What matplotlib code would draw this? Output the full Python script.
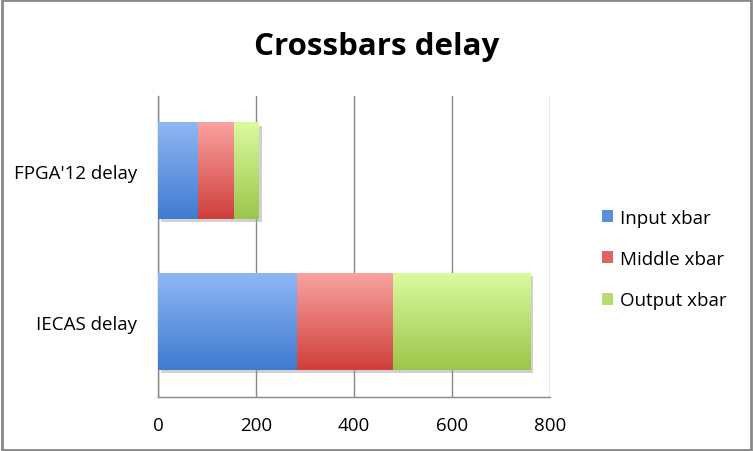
import numpy as np
import matplotlib
matplotlib.use('agg')
import matplotlib.pyplot as plt
from matplotlib.colors import LinearSegmentedColormap
from matplotlib.patches import Rectangle, Patch
import matplotlib.patheffects as pe

# data
categories = ["FPGA'12 delay", "IECAS delay"]
series_names = ["Input xbar", "Middle xbar", "Output xbar"]
input_xbar = [81, 283]
middle_xbar = [75, 196]
output_xbar = [50, 281]
x_ticks = [0, 200, 400, 600, 800]

# gradient top / bottom colours for each series
grad_colors = [
    ("#8fb6f4", "#3f7bd0"),
    ("#f9a2a0", "#cf3f3b"),
    ("#dafa9e", "#9cc64b"),
]
legend_colors = ["#5b8fdc", "#e06461", "#b6dc72"]

plt.rcParams['font.family'] = ['Open Sans', 'DejaVu Sans']

fig = plt.figure(figsize=(7.53, 4.52), dpi=100)
ax = fig.add_axes([158 / 753, 1 - 398 / 452, 392 / 753, 301 / 452])

values = [input_xbar, middle_xbar, output_xbar]
ypos = np.arange(len(categories))
left = np.zeros(len(categories))
bar_h = 0.64
for name, vals, (ctop, cbot) in zip(series_names, values, grad_colors):
    bars = ax.barh(ypos, vals, left=left, height=bar_h, color=cbot,
                   edgecolor='none', zorder=3, label=name)
    cmap = LinearSegmentedColormap.from_list(name, [cbot, ctop])
    grad = np.linspace(0, 1, 100).reshape(-1, 1)
    for b in bars:
        x0, y0 = b.get_x(), b.get_y()
        w, h = b.get_width(), b.get_height()
        # y axis is inverted below, so the top of the bar is y0
        ax.imshow(grad, cmap=cmap, aspect='auto', zorder=4,
                  extent=(x0, x0 + w, y0, y0 + h), origin='upper')
    left = left + np.array(vals)

# shadow under each full stacked bar
for i, total in enumerate(left):
    sh = Rectangle((0, ypos[i] - bar_h / 2), total, bar_h, facecolor='white',
                   edgecolor='none', zorder=2)
    sh.set_path_effects([pe.SimplePatchShadow(offset=(2, -2), shadow_rgbFace='#999999', alpha=0.45)])
    ax.add_patch(sh)

ax.set_xlim(0, 800)
ax.set_ylim(-0.5, 1.5)
ax.invert_yaxis()
ax.set_xticks(x_ticks)
ax.set_xticklabels([str(t) for t in x_ticks], fontsize=13.5)
ax.set_yticks(ypos)
ax.set_yticklabels(categories, fontsize=13.5)
ax.tick_params(axis='both', length=0)
ax.tick_params(axis='x', pad=14)
ax.tick_params(axis='y', pad=15)
ax.grid(axis='x', color='#888888', linewidth=1.0, zorder=1)
ax.set_axisbelow(True)
for s in ['top', 'right']:
    ax.spines[s].set_visible(False)
for s in ['left', 'bottom']:
    ax.spines[s].set_color('#888888')
    ax.spines[s].set_linewidth(1.0)

fig.text(0.5, 1 - 47 / 452, "Crossbars delay", ha='center', va='center',
         fontsize=22.5, fontweight='bold')

handles = [Patch(facecolor=c, edgecolor='none') for c in legend_colors]
fig.legend(handles, series_names, loc='center left', bbox_to_anchor=(585 / 753, 1 - 260 / 452),
           frameon=False, fontsize=13.5, handlelength=0.6, handleheight=0.6,
           handletextpad=0.35, labelspacing=1.25)

# outer border of the chart
fig.patches.append(Rectangle((0.002, 0.003), 0.995, 0.994, transform=fig.transFigure,
                             fill=False, edgecolor='#888888', linewidth=2))

fig.savefig('out.png', dpi=100)
